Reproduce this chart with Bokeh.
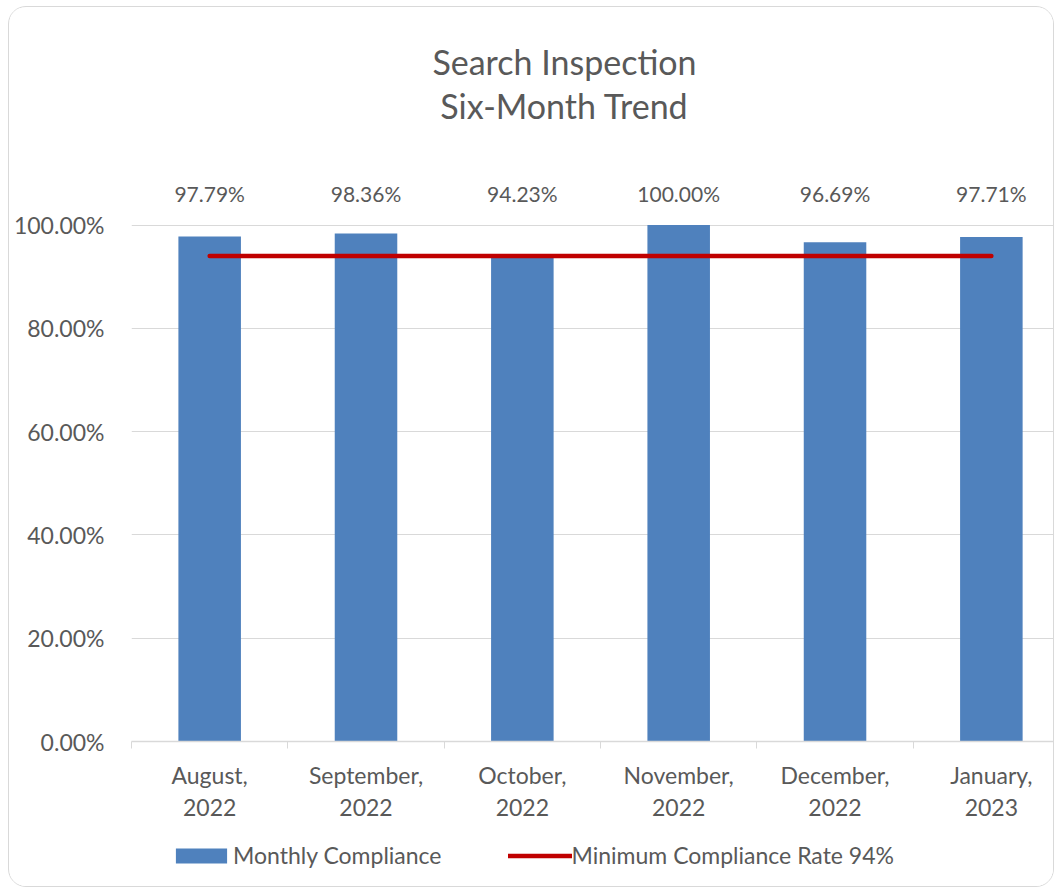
from bokeh.plotting import figure
from bokeh.layouts import column
from bokeh.models import (ColumnDataSource, Range1d, FixedTicker, NumeralTickFormatter,
                          LabelSet, Label, Legend, LegendItem)
from bokeh.embed import file_html
from bokeh.resources import INLINE
from bokeh.core.properties import value

# ---- data ----
months = ["August,\n2022", "September,\n2022", "October,\n2022",
          "November,\n2022", "December,\n2022", "January,\n2023"]
compliance = [0.9779, 0.9836, 0.9423, 1.0000, 0.9669, 0.9771]
minimum_rate = [0.94, 0.94, 0.94, 0.94, 0.94, 0.94]
y_ticks = [0.0, 0.2, 0.4, 0.6, 0.8, 1.0]
title_lines = ["Search Inspection", "Six-Month Trend"]
legend_labels = ["Monthly Compliance", "Minimum Compliance Rate 94%"]

FONT = "Lato"
TEXT = "#595959"
GRID = "#d9d9d9"
BAR = "#4F81BD"
RED = "#C00000"

# layout (pixels)
FRAME_W, FRAME_H = 922, 732
CAT_PX = 156          # width of one category
UNIT_PX = 515         # pixels for 0..100%

x = [i + 0.5 for i in range(len(months))]
labels = [f"{v:.2%}" for v in compliance]
src = ColumnDataSource(dict(x=x, top=compliance, minimum=minimum_rate, label=labels))

p = figure(frame_width=FRAME_W, frame_height=FRAME_H, output_backend="svg",
           toolbar_location=None,
           x_range=Range1d(0, FRAME_W / CAT_PX), y_range=Range1d(0, FRAME_H / UNIT_PX),
           min_border_left=122, min_border_right=0, min_border_top=0,
           min_border_bottom=147)
p.outline_line_color = None
p.background_fill_color = "white"
p.border_fill_color = "white"
p.styles = {"border": "1px solid #d9d9d9", "border-radius": "18px",
            "margin-left": "8px", "margin-top": "6px", "overflow": "hidden"}

bars = p.vbar(x="x", top="top", width=0.4, source=src, fill_color=BAR, line_color=None)
line = p.line(x="x", y="minimum", source=src, line_color=RED, line_width=4.5,
              line_cap="round")

# x axis
xa = p.xaxis[0]
xa.ticker = FixedTicker(ticks=x, minor_ticks=list(range(len(months) + 1)))
xa.major_label_overrides = {xi: m for xi, m in zip(x, months)}
xa.major_tick_line_color = None
xa.major_tick_out = 0
xa.major_tick_in = 0
xa.minor_tick_line_color = GRID
xa.minor_tick_out = 7
xa.minor_tick_in = 0
xa.axis_line_color = GRID
xa.axis_line_width = 1.5
xa.major_label_text_font = FONT
xa.major_label_text_font_size = "23px"
xa.major_label_text_color = TEXT
xa.major_label_standoff = 12
xa.major_label_text_line_height = 1.15

# y axis
ya = p.yaxis[0]
ya.ticker = FixedTicker(ticks=y_ticks)
ya.formatter = NumeralTickFormatter(format="0.00%")
ya.axis_line_color = None
ya.major_tick_line_color = None
ya.minor_tick_line_color = None
ya.major_tick_out = 0
ya.major_tick_in = 0
ya.major_label_standoff = 27
ya.major_label_text_font = FONT
ya.major_label_text_font_size = "23px"
ya.major_label_text_color = TEXT

p.xgrid.grid_line_color = None
p.ygrid.grid_line_color = GRID
p.ygrid.grid_line_width = 1

# data labels (fixed row above the bars)
p.add_layout(LabelSet(x="x", y=(741 - 194) / UNIT_PX, text="label", source=src,
                      text_align="center", text_baseline="middle",
                      text_font=value(FONT), text_font_size="21px", text_color=TEXT))

# title
for line_text, cy in zip(title_lines, [61, 105]):
    p.add_layout(Label(x=564 - 131, y=741 - cy, x_units="screen", y_units="screen",
                       text=line_text, text_align="center", text_baseline="middle",
                       text_font=FONT, text_font_size="34px", text_color=TEXT))

# legend strip (overlaid on the bottom of the chart box); its ranges keep the
# series themselves out of view so only the legend entries show
lg = figure(width=900, height=40, output_backend="svg", toolbar_location=None,
            x_axis_type=None, y_axis_type=None,
            x_range=Range1d(-100, -99), y_range=Range1d(-100, -99),
            min_border_left=0, min_border_right=0, min_border_top=0, min_border_bottom=0)
lg.outline_line_color = None
lg.background_fill_alpha = 0
lg.border_fill_alpha = 0
lg.styles = {"margin-top": "-52px", "margin-left": "47px"}
lg_bar = lg.vbar(x="x", top="top", width=0.4, source=src, fill_color=BAR, line_color=None)
lg_line = lg.line(x="x", y="minimum", source=src, line_color=RED, line_width=4.5,
                  line_cap="round")
legend = Legend(items=[LegendItem(label=legend_labels[0], renderers=[lg_bar]),
                       LegendItem(label=legend_labels[1], renderers=[lg_line])],
                orientation="horizontal", location="center_left", padding=0, margin=0,
                spacing=66, label_standoff=0, glyph_width=64, glyph_height=19,
                label_text_font=FONT, label_text_font_size="23px",
                label_text_color=TEXT, border_line_color=None,
                background_fill_alpha=0)
lg.add_layout(legend)

layout = column(p, lg, spacing=0)
open("out.html", "w").write(file_html(layout, INLINE))
